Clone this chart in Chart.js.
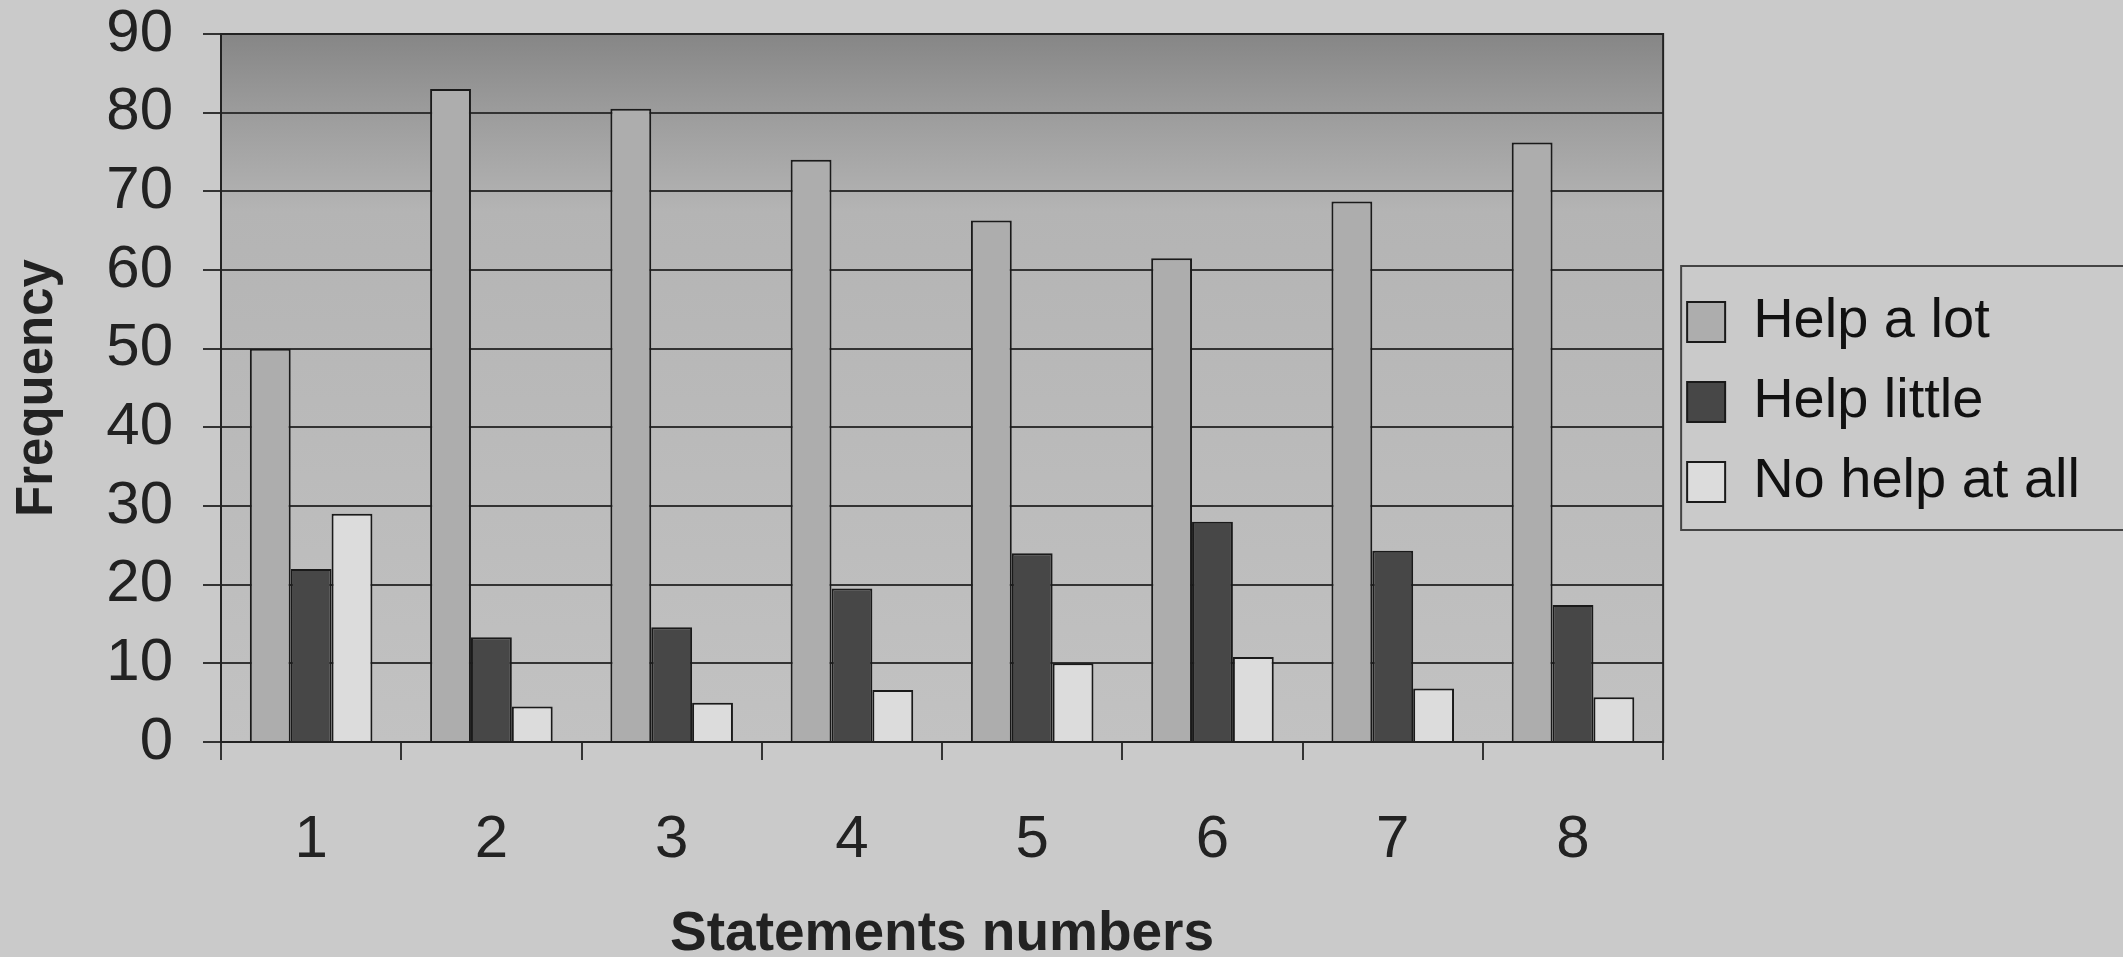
<!DOCTYPE html>
<html>
<head>
<meta charset="utf-8">
<script src="https://cdn.jsdelivr.net/npm/chart.js@4"></script>
<style>
  html, body { margin: 0; padding: 0; background: #cacaca; }
  #wrap { width: 2123px; height: 957px; }
</style>
</head>
<body>
<div id="wrap"><canvas id="chart"></canvas></div>
<script>
// DATA
const statements = ["1", "2", "3", "4", "5", "6", "7", "8"];
const helpALot = [50, 83, 80.5, 74, 66.3, 61.5, 68.7, 76.2];
const helpLittle = [22, 13.3, 14.6, 19.5, 24, 28, 24.3, 17.4];
const noHelp = [29, 4.5, 5, 6.6, 10, 10.8, 6.8, 5.7];

const FONT = "'Liberation Sans', Arial, sans-serif";

// plot background + borders
const paper = {
  id: "paper",
  beforeDraw(chart) {
    const { ctx, chartArea: a } = chart;
    ctx.save();
    ctx.fillStyle = "#cacaca";
    ctx.fillRect(0, 0, chart.width, chart.height);
    const g = ctx.createLinearGradient(0, a.top, 0, a.bottom);
    g.addColorStop(0, "#868686");
    g.addColorStop(0.1, "#9a9a9a");
    g.addColorStop(0.25, "#b4b4b4");
    g.addColorStop(1, "#c2c2c2");
    ctx.fillStyle = g;
    ctx.fillRect(a.left, a.top, a.right - a.left, a.bottom - a.top);
    ctx.restore();
  },
  afterDatasetsDraw(chart) {
    const { ctx, chartArea: a } = chart;
    ctx.save();
    ctx.strokeStyle = "#222";
    ctx.lineWidth = 2;
    ctx.strokeRect(a.left, a.top, a.right - a.left, a.bottom - a.top);
    ctx.restore();
  },
  afterDraw(chart) {
    const boxes = chart.legend && chart.legend.legendHitBoxes;
    if (!boxes || !boxes.length) return;
    const first = boxes[0], last = boxes[boxes.length - 1];
    const { ctx } = chart;
    ctx.save();
    ctx.strokeStyle = "#444";
    ctx.lineWidth = 2;
    ctx.strokeRect(first.left - 6, first.top - 28, chart.width, last.top + last.height - first.top + 48);
    ctx.restore();
  },
};

new Chart(document.getElementById("chart"), {
  type: "bar",
  data: {
    labels: statements,
    datasets: [
      {
        label: "Help a lot",
        data: helpALot,
        backgroundColor: "#adadad",
        borderColor: "#1a1a1a",
        borderWidth: 2,
      },
      {
        label: "Help little",
        data: helpLittle,
        backgroundColor: "#474747",
        borderColor: "#1a1a1a",
        borderWidth: 2,
      },
      {
        label: "No help at all",
        data: noHelp,
        backgroundColor: "#dcdcdc",
        borderColor: "#1a1a1a",
        borderWidth: 2,
      },
    ],
  },
  options: {
    responsive: true,
    maintainAspectRatio: false,
    animation: false,
    layout: { padding: { top: 34, left: 12, right: 33, bottom: 0 } },
    datasets: { bar: { categoryPercentage: 0.68, barPercentage: 1.0 } },
    scales: {
      x: {
        grid: {
          offset: true,
          drawOnChartArea: false,
          tickLength: 18,
          color: "#333",
          lineWidth: 2,
        },
        border: { display: false },
        ticks: { color: "#222", font: { family: FONT, size: 60 }, padding: 44 },
        title: {
          display: true,
          text: "Statements numbers",
          color: "#222",
          font: { family: FONT, size: 55, weight: "bold", lineHeight: 0.8 },
          padding: { top: 0, bottom: 0 },
        },
        afterFit(s) { s.height = 957 - 742; },
      },
      y: {
        min: 0,
        max: 90,
        ticks: { stepSize: 10, color: "#222", font: { family: FONT, size: 60 }, padding: 30 },
        grid: { color: "#333", lineWidth: 2, tickLength: 18 },
        border: { color: "#222", width: 2 },
        title: {
          display: true,
          text: "Frequency",
          color: "#222",
          font: { family: FONT, size: 51, weight: "bold", lineHeight: 1 },
          padding: 0,
        },
        afterFit(s) {
          s.width = 221 - 12;
          s.paddingTop = 0;
          s.paddingBottom = 0;
        },
      },
    },
    plugins: {
      legend: {
        position: "right",
        fullSize: false,
        align: "center",
        title: { display: true, text: " ", font: { size: 8, lineHeight: 1 }, padding: 10 },
        labels: {
          color: "#111",
          font: { family: FONT, size: 56 },
          boxWidth: 38,
          boxHeight: 40,
          padding: 24,
        },
      },
      tooltip: { enabled: false },
    },
  },
  plugins: [paper],
});
</script>
</body>
</html>
